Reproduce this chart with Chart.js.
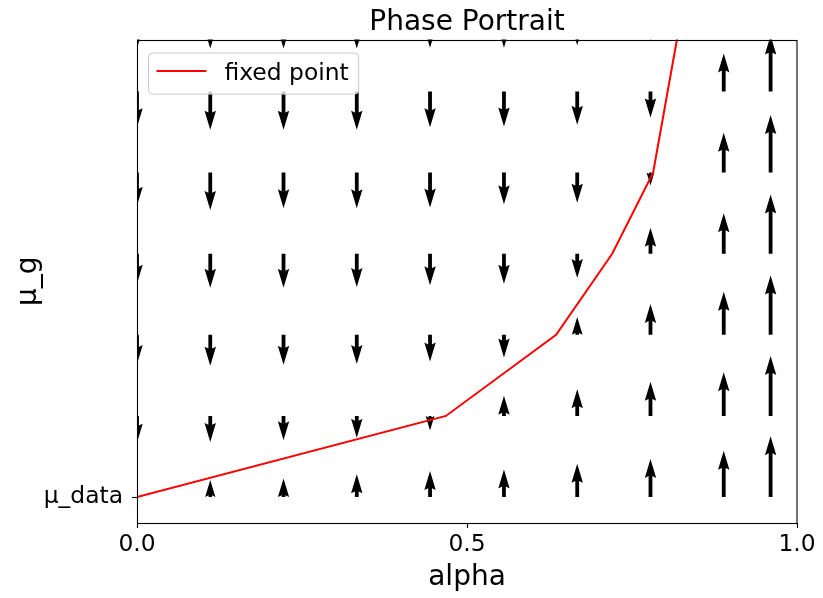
<!DOCTYPE html>
<html><head><meta charset="utf-8">
<script src="https://cdn.jsdelivr.net/npm/chart.js@4.4.0/dist/chart.umd.min.js"></script>
<style>html,body{margin:0;padding:0;background:#fff;}#wrap{width:823px;height:598px;}</style>
</head><body><div id="wrap"><canvas id="c" width="823" height="598"></canvas></div>
<script>
// ---- data ----
const alphaGrid = [0, 0.111, 0.222, 0.333, 0.444, 0.556, 0.667, 0.778, 0.889, 0.96];
const muGrid = [0, 1, 2, 3, 4, 5, 6];           // in units above mu_data
const dMuRow0 = [0, 0.21, 0.23, 0.28, 0.32, 0.34, 0.41, 0.47, 0.57, 0.75];
const dMuRow1 = [-0.33, -0.32, -0.30, -0.27, -0.18, 0.25, 0.33, 0.42, 0.54, 0.74];
const dMuRow2 = [-0.36, -0.38, -0.37, -0.36, -0.33, -0.28, 0.22, 0.38, 0.53, 0.73];
const dMuRow3 = [-0.37, -0.42, -0.42, -0.41, -0.39, -0.37, -0.30, 0.32, 0.50, 0.73];
const dMuRow4 = [-0.41, -0.46, -0.44, -0.44, -0.43, -0.39, -0.37, -0.16, 0.49, 0.71];
const dMuRow5 = [-0.44, -0.47, -0.47, -0.47, -0.44, -0.43, -0.41, -0.32, 0.47, 0.69];
const dMuRow6 = [-0.47, -0.47, -0.47, -0.47, -0.46, -0.46, -0.43, -0.37, 0.46, 0.68];
const fixedAlpha = [0, 0.468, 0.635, 0.720, 0.782, 0.804, 0.826];
const fixedMu = [0, 1, 2, 3, 4, 5, 6];
const xTickValues = [0, 0.5, 1.0];
const yTickValues = [0];
const yTickLabels = ['μ_data'];

const dMuRows = [dMuRow0, dMuRow1, dMuRow2, dMuRow3, dMuRow4, dMuRow5, dMuRow6];
Chart.defaults.font.family = 'DejaVu Sans';
Chart.defaults.color = '#000';

const quiverPlugin = {
  id: 'quiver',
  beforeDatasetsDraw(chart) {
    const {ctx, chartArea: ca, scales: {x, y}} = chart;
    ctx.save();
    ctx.beginPath(); ctx.rect(ca.left, ca.top, ca.right - ca.left, ca.bottom - ca.top); ctx.clip();
    ctx.fillStyle = '#000';
    const w = 3.8, hl = 5, hal = 4.5, hw = 3;
    muGrid.forEach((mu, j) => {
      alphaGrid.forEach((a, i) => {
        const v = dMuRows[j][i];
        if (!v) return;
        const px = x.getPixelForValue(a);
        const py0 = y.getPixelForValue(mu);
        const py1 = y.getPixelForValue(mu + v);
        const L = Math.abs(py1 - py0) / w;
        const dir = py1 < py0 ? -1 : 1;
        let pts;
        if (L >= hl) {
          pts = [[0,0.5],[L-hal,0.5],[L-hl,hw/2],[L,0],[L-hl,-hw/2],[L-hal,-0.5],[0,-0.5]];
        } else {
          const s = L / hl;
          pts = [[0,0.5],[hl-hal,0.5],[0,hw/2],[hl,0],[0,-hw/2],[hl-hal,-0.5],[0,-0.5]].map(p => [p[0]*s, p[1]*s]);
        }
        ctx.beginPath();
        pts.forEach(([u, t], k) => {
          const X = px + t * w, Y = py0 + dir * u * w;
          if (k) ctx.lineTo(X, Y); else ctx.moveTo(X, Y);
        });
        ctx.closePath(); ctx.fill();
      });
    });
    ctx.restore();
  }
};

const framePlugin = {
  id: 'frame',
  afterDatasetsDraw(chart) {
    const {ctx, chartArea: ca} = chart;
    ctx.save();
    ctx.strokeStyle = '#000'; ctx.lineWidth = 1.1;
    ctx.strokeRect(Math.round(ca.left) + 0.5, Math.round(ca.top) + 0.5,
                   Math.round(ca.right - ca.left) - 0.5, Math.round(ca.bottom - ca.top));
    ctx.restore();
  }
};

const legendPlugin = {
  id: 'boxLegend',
  afterDraw(chart) {
    const {ctx, chartArea: ca} = chart;
    const ds = chart.data.datasets[0];
    ctx.save();
    ctx.font = '23.4px "DejaVu Sans"';
    const tw = ctx.measureText(ds.label).width;
    const bx = ca.left + 11.5, by = ca.top + 13.5;
    const bw = 8 + 50 + 18 + tw + 10, bh = 41, r = 4;
    ctx.beginPath();
    ctx.moveTo(bx + r, by);
    ctx.lineTo(bx + bw - r, by); ctx.arcTo(bx + bw, by, bx + bw, by + r, r);
    ctx.lineTo(bx + bw, by + bh - r); ctx.arcTo(bx + bw, by + bh, bx + bw - r, by + bh, r);
    ctx.lineTo(bx + r, by + bh); ctx.arcTo(bx, by + bh, bx, by + bh - r, r);
    ctx.lineTo(bx, by + r); ctx.arcTo(bx, by, bx + r, by, r);
    ctx.closePath();
    ctx.fillStyle = 'rgba(255,255,255,0.8)'; ctx.fill();
    ctx.strokeStyle = '#cccccc'; ctx.lineWidth = 1; ctx.stroke();
    ctx.beginPath();
    ctx.moveTo(bx + 8, by + 18); ctx.lineTo(bx + 58, by + 18);
    ctx.strokeStyle = ds.borderColor; ctx.lineWidth = ds.borderWidth; ctx.stroke();
    ctx.fillStyle = '#000'; ctx.textBaseline = 'alphabetic'; ctx.textAlign = 'left';
    ctx.fillText(ds.label, bx + 76, by + 27);
    ctx.restore();
  }
};

new Chart(document.getElementById('c'), {
  type: 'scatter',
  data: {
    datasets: [{
      label: 'fixed point',
      data: fixedAlpha.map((a, i) => ({x: a, y: fixedMu[i]})),
      showLine: true,
      borderColor: '#ff0000',
      borderWidth: 2,
      pointRadius: 0,
      tension: 0,
      clip: 0
    }]
  },
  options: {
    responsive: false,
    animation: false,
    devicePixelRatio: 1,
    layout: {padding: {left: 0, right: 26, top: 0, bottom: 0}},
    plugins: {
      legend: {display: false},
      tooltip: {enabled: false},
      title: {
        display: true, text: 'Phase Portrait', fullSize: false,
        font: {size: 28, weight: 'normal'}, color: '#000',
        padding: {top: 6, bottom: 0}
      }
    },
    scales: {
      x: {
        type: 'linear', min: 0, max: 1,
        afterBuildTicks: s => { s.ticks = xTickValues.map(v => ({value: v})); },
        afterFit: s => { s.height = 75; },
        ticks: {callback: v => Number(v).toFixed(1), font: {size: 23.4}, color: '#000', padding: 3, maxRotation: 0},
        grid: {drawOnChartArea: false, tickLength: 5, tickColor: '#000', tickWidth: 1.1},
        border: {display: false},
        title: {display: true, text: 'alpha', font: {size: 28}, color: '#000', padding: {top: 0, bottom: 3}}
      },
      y: {
        type: 'linear', min: -0.32, max: 5.64,
        afterBuildTicks: s => { s.ticks = yTickValues.map(v => ({value: v})); },
        afterFit: s => { s.width = 137; },
        ticks: {callback: (v, i) => yTickLabels[i], font: {size: 23.4}, color: '#000', padding: 9},
        grid: {drawOnChartArea: false, tickLength: 5, tickColor: '#000', tickWidth: 1.1},
        border: {display: false},
        title: {display: true, text: 'μ_g', font: {size: 28}, color: '#000', padding: {top: 12, bottom: 0}}
      }
    }
  },
  plugins: [quiverPlugin, framePlugin, legendPlugin]
});
</script></body></html>
